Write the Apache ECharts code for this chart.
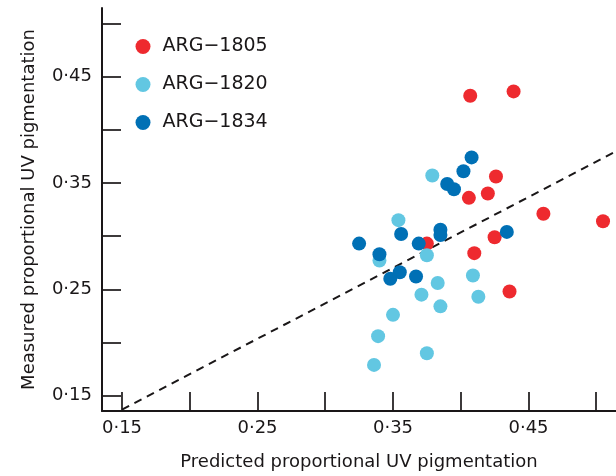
<!DOCTYPE html>
<html>
<head>
<meta charset="utf-8">
<script src="https://cdn.jsdelivr.net/npm/echarts@6/dist/echarts.min.js"></script>
<style>
html,body{margin:0;padding:0;background:#fff;}
#chart{width:616px;height:476px;}
</style>
</head>
<body>
<div id="chart"></div>
<script>
// Data: [predicted, measured]
var seriesNames = ['ARG\u22121805', 'ARG\u22121820', 'ARG\u22121834'];
var arg1805 = [
  [0.407, 0.432], [0.439, 0.436], [0.426, 0.356], [0.420, 0.340], [0.406, 0.336],
  [0.461, 0.321], [0.505, 0.314], [0.425, 0.299], [0.410, 0.284], [0.436, 0.248],
  [0.375, 0.293]
];
var arg1820 = [
  [0.379, 0.357], [0.354, 0.315], [0.375, 0.282], [0.340, 0.277], [0.383, 0.256],
  [0.409, 0.263], [0.413, 0.243], [0.371, 0.245], [0.385, 0.234], [0.350, 0.226],
  [0.339, 0.206], [0.375, 0.190], [0.336, 0.179]
];
var arg1834 = [
  [0.408, 0.374], [0.402, 0.361], [0.390, 0.349], [0.395, 0.344], [0.434, 0.304],
  [0.356, 0.302], [0.385, 0.306], [0.385, 0.301], [0.369, 0.293], [0.325, 0.293],
  [0.340, 0.283], [0.355, 0.266], [0.348, 0.260], [0.367, 0.262]
];
var fitLine = [[0.15, 0.137], [0.515, 0.380]];
var tickValues = [0.15, 0.20, 0.25, 0.30, 0.35, 0.40, 0.45, 0.50];
var labelValues = [0.15, 0.25, 0.35, 0.45];
var xTitle = 'Predicted proportional UV pigmentation';
var yTitle = 'Measured proportional UV pigmentation';

var colors = ['#EE2A2F', '#62C7E2', '#0070B5'];
var ink = '#1A1718';
var font = 'DejaVu Sans';

function fmt(v) { return v.toFixed(2).replace('.', '\u00B7'); }

function axisCommon() {
  return {
    type: 'value',
    axisLine: { show: true, onZero: false, lineStyle: { color: ink, width: 2 } },
    axisTick: { show: true, inside: true, length: 19, customValues: tickValues, lineStyle: { color: ink, width: 1.7 } },
    axisLabel: { customValues: labelValues, formatter: fmt, color: ink, fontFamily: font, fontSize: 18 },
    splitLine: { show: false },
    nameLocation: 'middle',
    nameTextStyle: { color: ink, fontFamily: font, fontSize: 18 }
  };
}

var xAxis = axisCommon();
xAxis.min = 0.13524; xAxis.max = 0.51458;
xAxis.name = xTitle; xAxis.nameGap = 42;
xAxis.axisLabel.margin = 8;

var yAxis = axisCommon();
yAxis.min = 0.13566; yAxis.max = 0.5144;
yAxis.name = yTitle; yAxis.nameGap = 64;
yAxis.axisLabel.margin = 10;

var chart = echarts.init(document.getElementById('chart'), null, { renderer: 'canvas' });
var scatterData = [arg1805, arg1820, arg1834];
var series = scatterData.map(function (d, i) {
  return {
    name: seriesNames[i], type: 'scatter', data: d, symbolSize: 14,
    itemStyle: { color: colors[i], opacity: 1 }, z: 3 + i
  };
});
series.push({
  type: 'line', data: fitLine, symbol: 'none', silent: true, z: 2,
  lineStyle: { color: ink, width: 2, type: [8, 6] }
});

chart.setOption({
  animation: false,
  grid: { left: 102, right: 0, top: 8, bottom: 64, containLabel: false },
  xAxis: xAxis,
  yAxis: yAxis,
  legend: {
    data: seriesNames, orient: 'vertical', left: 135.5, top: 37, padding: 0,
    icon: 'circle', itemWidth: 15, itemHeight: 15, itemGap: 19,
    textStyle: { color: ink, fontFamily: font, fontSize: 19, padding: [0, 0, 0, 7] }
  },
  series: series
});
</script>
</body>
</html>
